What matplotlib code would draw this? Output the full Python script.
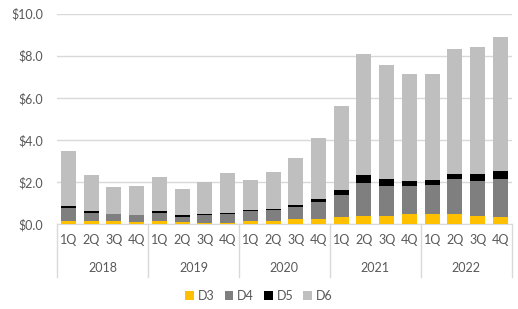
import matplotlib.pyplot as plt
import numpy as np

plt.rcParams["font.family"] = ["Lato", "DejaVu Sans"]

years = ["2018", "2019", "2020", "2021", "2022"]
quarters = ["1Q", "2Q", "3Q", "4Q"]

# stacked segment values ($B)
d3 = [0.16, 0.16, 0.12, 0.10, 0.15, 0.08, 0.07, 0.05, 0.16, 0.15,
      0.22, 0.25, 0.32, 0.38, 0.39, 0.46, 0.46, 0.46, 0.38, 0.35]
d4 = [0.58, 0.38, 0.35, 0.33, 0.37, 0.27, 0.35, 0.43, 0.44, 0.52,
      0.60, 0.81, 1.04, 1.55, 1.43, 1.34, 1.41, 1.66, 1.68, 1.79]
d5 = [0.11, 0.06, 0.02, 0.02, 0.08, 0.09, 0.04, 0.04, 0.05, 0.06,
      0.10, 0.13, 0.25, 0.38, 0.33, 0.26, 0.23, 0.27, 0.33, 0.36]
d6 = [2.63, 1.71, 1.27, 1.35, 1.65, 1.22, 1.53, 1.90, 1.44, 1.74,
      2.20, 2.89, 3.98, 5.79, 5.43, 5.07, 5.03, 5.93, 6.01, 6.40]

colors = {"D3": "#FFC000", "D4": "#7F7F7F", "D5": "#000000", "D6": "#BFBFBF"}
txt = "#595959"

fig = plt.figure(figsize=(5.18, 3.09), dpi=100)
ax = fig.add_axes([0.110, 0.275, 0.878, 0.681])

x = np.arange(len(d3))
bottom = np.zeros(len(d3))
for name, vals in [("D3", d3), ("D4", d4), ("D5", d5), ("D6", d6)]:
    ax.bar(x, vals, 0.66, bottom=bottom, color=colors[name], label=name, zorder=3)
    bottom += np.array(vals)

ax.set_xlim(-0.5, len(d3) - 0.5)
ax.set_ylim(0, 10)
ax.set_yticks(np.arange(0, 10.1, 2))
ax.set_yticklabels(["$%.1f" % v for v in np.arange(0, 10.1, 2)])
ax.yaxis.grid(True, color="#D9D9D9", linewidth=1)
ax.tick_params(axis="y", length=0, labelsize=9, labelcolor=txt, pad=10)
ax.tick_params(axis="x", length=0, labelsize=9, labelcolor=txt, pad=7)
ax.set_xticks(x)
ax.set_xticklabels(quarters * len(years))
for s in ["top", "right", "left"]:
    ax.spines[s].set_visible(False)
ax.spines["bottom"].set_color("#D9D9D9")

# year labels and group separators
for i, y in enumerate(years):
    ax.text(i * 4 + 1.5, -0.21, y, transform=ax.get_xaxis_transform(),
            ha="center", va="center", fontsize=9, color=txt)
for i in range(len(years) + 1):
    ax.plot([i * 4 - 0.5, i * 4 - 0.5], [0, -0.25], transform=ax.get_xaxis_transform(),
            color="#D9D9D9", linewidth=1, clip_on=False)

fig.legend(loc="center", bbox_to_anchor=(0.5, 0.042), ncol=4, frameon=False,
           fontsize=9, handlelength=0.7, handleheight=0.7, handletextpad=0.3,
           columnspacing=0.8, labelcolor=txt)

fig.savefig("out.png", dpi=100)
